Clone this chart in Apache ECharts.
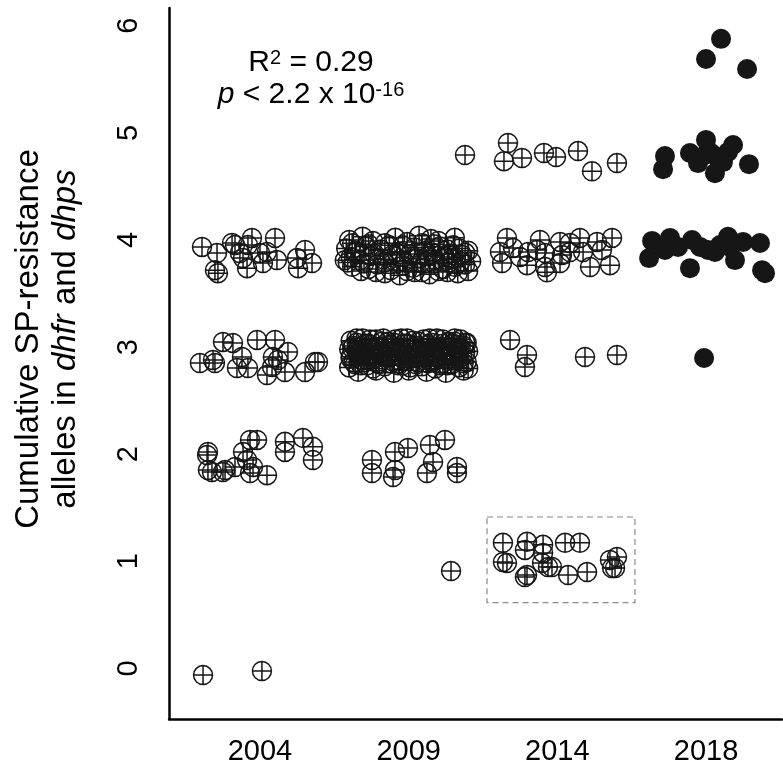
<!DOCTYPE html>
<html><head><meta charset="utf-8">
<script src="https://cdn.jsdelivr.net/npm/echarts@6/dist/echarts.min.js"></script>
<style>html,body{margin:0;padding:0;background:#fff}#c{width:783px;height:767px}</style>
</head><body><div id="c"></div>
<script>
const years = ['2004', '2009', '2014', '2018'];
const yTicks = [0, 1, 2, 3, 4, 5, 6];
const xTicks = [0, 1, 2, 3];

// jittered points: [category position (0=2004 ... 3=2018), cumulative alleles]
const pts2004 = [
  [-0.383, -0.063], [0.013, -0.025],
  [-0.350, 2.021], [-0.356, 1.992], [-0.350, 1.851], [-0.323, 1.833], [-0.249, 1.833], [-0.235, 1.851],
  [-0.168, 1.880], [-0.114, 2.021], [-0.087, 1.945], [-0.067, 2.133], [-0.020, 2.133], [-0.047, 1.880],
  [-0.067, 1.823], [0.047, 1.804], [0.168, 2.115], [0.168, 2.021], [0.289, 2.152], [0.356, 2.068], [0.356, 1.945],
  [-0.249, 3.048], [-0.182, 3.039], [-0.020, 3.067], [0.101, 3.067], [-0.404, 2.851], [-0.316, 2.879],
  [-0.303, 2.851], [-0.121, 2.907], [-0.155, 2.804], [-0.081, 2.804], [0.047, 2.738], [0.087, 2.907],
  [0.121, 2.879], [0.188, 2.954], [0.168, 2.766], [0.303, 2.766], [0.370, 2.860], [0.390, 2.860], [0.081, 2.813],
  [-0.390, 3.935], [-0.289, 3.878], [-0.188, 3.972], [-0.168, 3.953], [-0.135, 3.878], [-0.081, 3.953],
  [-0.054, 4.019], [0.101, 4.019], [0.047, 3.888], [0.020, 3.784], [0.114, 3.812], [-0.087, 3.737],
  [-0.303, 3.718], [-0.283, 3.690], [0.249, 3.831], [0.303, 3.906], [0.256, 3.737], [0.350, 3.784],
  [-0.114, 3.831], [0.000, 3.878]
];
const pts2009 = [
  [1.285, 0.908],
  [0.753, 1.945], [0.753, 1.823], [0.908, 2.021], [0.908, 1.851], [0.895, 1.786], [0.995, 2.058],
  [1.143, 2.086], [1.164, 1.927], [1.244, 2.133], [1.123, 1.823], [1.325, 1.880], [1.325, 1.823],
  [1.379, 4.793],
  [0.60, 4.00], [0.69, 4.03], [0.76, 3.99], [0.91, 4.02], [0.99, 3.98], [1.07, 4.04], [1.15, 4.01], [1.20, 3.99], [1.31, 4.02],
  [0.58, 3.92], [0.64, 3.90], [0.71, 3.94], [0.81, 3.91], [0.87, 3.95], [0.94, 3.89], [1.04, 3.93], [1.11, 3.90], [1.21, 3.94], [1.26, 3.91], [1.34, 3.92],
  [0.61, 3.84], [0.67, 3.81], [0.74, 3.85], [0.83, 3.82], [0.89, 3.86], [0.97, 3.80], [1.06, 3.83], [1.13, 3.85], [1.18, 3.81], [1.24, 3.84], [1.29, 3.82], [1.36, 3.86],
  [0.62, 3.75], [0.73, 3.73], [0.79, 3.77], [0.88, 3.72], [0.96, 3.76], [1.03, 3.74], [1.11, 3.78], [1.23, 3.73], [1.31, 3.75], [1.38, 3.77],
  [0.84, 3.69], [0.94, 3.67], [1.04, 3.70], [1.14, 3.68], [1.33, 3.69], [1.40, 3.71],
  [1.42, 3.80], [1.40, 3.90], [0.57, 3.81],
  [0.62, 3.97], [0.73, 3.96], [0.84, 3.97], [0.96, 3.95], [1.09, 3.97], [1.17, 3.96], [1.30, 3.95],
  [0.64, 3.88], [0.77, 3.87], [0.92, 3.88], [1.01, 3.87], [1.16, 3.88], [1.27, 3.87], [1.38, 3.88],
  [0.59, 3.79], [0.70, 3.78], [0.84, 3.79], [0.92, 3.78], [1.08, 3.79], [1.17, 3.78], [1.27, 3.79], [1.35, 3.80],
  [0.68, 3.71], [0.78, 3.70], [0.99, 3.71], [1.09, 3.70], [1.20, 3.71], [1.26, 3.70],
  [0.61, 3.06], [0.69, 3.08], [0.78, 3.07], [0.86, 3.05], [0.95, 3.08], [1.03, 3.06], [1.10, 3.07], [1.19, 3.08], [1.27, 3.05], [1.35, 3.07], [1.39, 3.04],
  [0.63, 3.01], [0.71, 3.03], [0.80, 3.00], [0.88, 3.02], [0.97, 3.03], [1.05, 3.01], [1.13, 3.02], [1.22, 3.00], [1.30, 3.03], [1.37, 3.01], [0.60, 2.98],
  [0.65, 2.96], [0.74, 2.98], [0.82, 2.95], [0.91, 2.97], [0.99, 2.98], [1.08, 2.96], [1.16, 2.97], [1.24, 2.95], [1.32, 2.98], [1.40, 2.96],
  [0.61, 2.91], [0.69, 2.93], [0.77, 2.90], [0.85, 2.92], [0.94, 2.93], [1.02, 2.91], [1.11, 2.92], [1.19, 2.90], [1.28, 2.93], [1.36, 2.91],
  [0.63, 2.86], [0.72, 2.88], [0.80, 2.85], [0.89, 2.87], [0.97, 2.88], [1.06, 2.86], [1.14, 2.87], [1.23, 2.85], [1.31, 2.88], [1.39, 2.86],
  [0.60, 2.81], [0.68, 2.83], [0.76, 2.80], [0.84, 2.82], [0.93, 2.83], [1.01, 2.81], [1.09, 2.82], [1.18, 2.80], [1.26, 2.83], [1.34, 2.81], [1.40, 2.80],
  [0.66, 2.77], [0.78, 2.78], [0.90, 2.76], [1.00, 2.78], [1.12, 2.77], [1.25, 2.76], [1.37, 2.78],
  [0.65, 3.08], [0.74, 3.07], [0.83, 3.08], [0.91, 3.07], [0.99, 3.08], [1.14, 3.08], [1.23, 3.07], [1.31, 3.08],
  [0.65, 3.04], [0.73, 3.03], [0.82, 3.05], [0.90, 3.04], [0.99, 3.03], [1.07, 3.05], [1.15, 3.04], [1.23, 3.03], [1.31, 3.05], [1.38, 3.04],
  [0.62, 2.99], [0.70, 2.98], [0.78, 3.00], [0.86, 2.99], [0.95, 2.98], [1.03, 3.00], [1.12, 2.99], [1.20, 2.98], [1.28, 3.00], [1.35, 2.99],
  [0.66, 2.94], [0.73, 2.93], [0.81, 2.94], [0.89, 2.95], [0.98, 2.93], [1.06, 2.94], [1.14, 2.95], [1.22, 2.93], [1.30, 2.94], [1.38, 2.95],
  [0.61, 2.89], [0.68, 2.88], [0.76, 2.89], [0.85, 2.90], [0.93, 2.88], [1.01, 2.89], [1.10, 2.90], [1.18, 2.88], [1.26, 2.89], [1.34, 2.90],
  [0.64, 2.84], [0.72, 2.83], [0.80, 2.84], [0.88, 2.85], [0.96, 2.83], [1.05, 2.84], [1.13, 2.85], [1.21, 2.83], [1.29, 2.84], [1.37, 2.85]
];
const pts2014 = [
  [1.668, 4.906], [1.641, 4.736], [1.762, 4.765], [1.910, 4.812], [1.991, 4.774], [2.139, 4.830], [2.233, 4.642], [2.401, 4.718],
  [1.661, 4.019], [1.614, 3.888], [1.628, 3.784], [1.702, 3.926], [1.749, 3.841], [1.796, 3.765], [1.883, 4.000], [1.863, 3.906],
  [1.917, 3.878], [1.917, 3.747], [2.018, 3.982], [2.031, 3.859], [2.018, 3.784], [2.085, 3.888], [2.152, 4.019], [2.173, 3.888],
  [2.220, 3.747], [2.267, 3.982], [2.300, 3.906], [2.368, 4.019], [2.354, 3.765], [1.930, 3.699], [1.803, 3.888], [2.085, 3.972],
  [1.682, 3.067], [1.796, 2.926], [1.782, 2.813], [2.186, 2.907], [2.401, 2.926],
  [1.634, 1.172], [1.796, 1.181], [1.782, 1.106], [1.904, 1.153], [2.052, 1.172], [2.152, 1.172], [1.634, 0.993], [1.661, 0.984],
  [1.796, 0.871], [1.782, 0.852], [1.897, 0.984], [1.904, 1.078], [1.937, 0.946], [1.964, 0.946], [2.072, 0.871], [2.200, 0.899],
  [2.354, 1.012], [2.401, 1.040], [2.388, 0.937], [2.368, 0.937]
];
const pts2018 = [
  [3.101, 5.878], [3.000, 5.690], [3.276, 5.596],
  [2.724, 4.783], [2.711, 4.661], [2.892, 4.812], [3.000, 4.934], [2.946, 4.718], [3.034, 4.812], [3.074, 4.774],
  [3.182, 4.887], [3.148, 4.821], [3.114, 4.727], [3.060, 4.624], [3.289, 4.708], [2.993, 4.793],
  [2.637, 3.991], [2.617, 3.831], [2.758, 4.019], [2.724, 3.906], [2.812, 3.935], [2.906, 4.000], [2.960, 3.935],
  [2.892, 3.737], [3.060, 3.888], [3.148, 4.029], [3.161, 3.935], [3.249, 3.982], [3.195, 3.812], [3.363, 3.972],
  [3.377, 3.718], [3.397, 3.690], [3.013, 3.906], [3.094, 3.953],
  [2.987, 2.898]
];
// dashed highlight box around the 2014 one-allele group (data units)
const boxCorners = [[1.527, 1.413], [2.522, 0.613]];

const FONT = 'Liberation Sans, Arial, Helvetica, sans-serif';
const INK = '#161616';
const plusCircle = 'path://M0,-10A10,10,0,1,1,0,10A10,10,0,1,1,0,-10ZM-10,0L10,0M0,-10L0,10';

function openSeries(data, extra) {
  return Object.assign({
    type: 'scatter',
    data: data,
    symbol: plusCircle,
    symbolSize: 19,
    itemStyle: { color: 'rgba(0,0,0,0)', borderColor: INK, borderWidth: 1.5, opacity: 1 },
    emphasis: { disabled: true },
    silent: true
  }, extra || {});
}

const chart = echarts.init(document.getElementById('c'), null, { renderer: 'canvas' });
chart.setOption({
  animation: false,
  backgroundColor: '#fff',
  grid: { left: 169, right: 1, top: 8, bottom: 48, containLabel: false, outerBoundsMode: 'none' },
  xAxis: {
    type: 'value', min: -0.612, max: 3.511,
    axisLine: { onZero: false, lineStyle: { color: '#000', width: 2.5 } },
    axisTick: { show: false },
    splitLine: { show: false },
    axisLabel: {
      customValues: xTicks,
      formatter: v => years[Math.round(v)],
      fontSize: 29, fontFamily: FONT, color: '#000', margin: 18
    }
  },
  yAxis: {
    type: 'value', min: -0.473, max: 6.166,
    axisLine: { onZero: false, lineStyle: { color: '#000', width: 2.5 } },
    axisTick: { show: false },
    splitLine: { show: false },
    axisLabel: {
      customValues: yTicks,
      formatter: v => String(Math.round(v)),
      rotate: 90,
      fontSize: 29, fontFamily: FONT, color: '#000', margin: 26
    }
  },
  series: [
    openSeries(pts2004),
    openSeries(pts2009),
    openSeries(pts2014, {
      markArea: {
        silent: true,
        itemStyle: { color: 'rgba(0,0,0,0)', borderColor: '#8a8a8a', borderWidth: 1.2, borderType: [6, 4] },
        label: { show: false },
        data: [[{ coord: boxCorners[0] }, { coord: boxCorners[1] }]]
      }
    }),
    {
      type: 'scatter', data: pts2018, symbol: 'circle', symbolSize: 20,
      itemStyle: { color: INK, opacity: 1 }, emphasis: { disabled: true }, silent: true
    }
  ],
  graphic: [
    {
      type: 'text', x: 311, y: 63, silent: true,
      style: {
        text: 'R{sup|2} = 0.29',
        fontSize: 30, fontFamily: FONT, fill: '#000',
        align: 'center', verticalAlign: 'middle', textAlign: 'center', textVerticalAlign: 'middle',
        rich: {
          sup: { fontSize: 20, fontFamily: FONT, fill: '#000', verticalAlign: 'top' }
        }
      }
    },
    {
      type: 'text', x: 311, y: 95, silent: true,
      style: {
        text: '{i|p} < 2.2 x 10{sup|-16}',
        fontSize: 30, fontFamily: FONT, fill: '#000',
        align: 'center', verticalAlign: 'middle', textAlign: 'center', textVerticalAlign: 'middle',
        rich: {
          i: { fontSize: 30, fontFamily: FONT, fontStyle: 'italic', fill: '#000' },
          sup: { fontSize: 20, fontFamily: FONT, fill: '#000', verticalAlign: 'top' }
        }
      }
    },
    {
      type: 'text', x: 47, y: 339, rotation: Math.PI / 2, silent: true,
      style: {
        text: 'Cumulative SP-resistance\nalleles in {i|dhfr} and {i|dhps}',
        fontSize: 33, fontFamily: FONT, fill: '#000', lineHeight: 37,
        align: 'center', verticalAlign: 'middle', textAlign: 'center', textVerticalAlign: 'middle',
        rich: {
          i: { fontSize: 33, fontFamily: FONT, fontStyle: 'italic', fill: '#000', lineHeight: 37 }
        }
      }
    }
  ]
});
</script>
</body></html>
